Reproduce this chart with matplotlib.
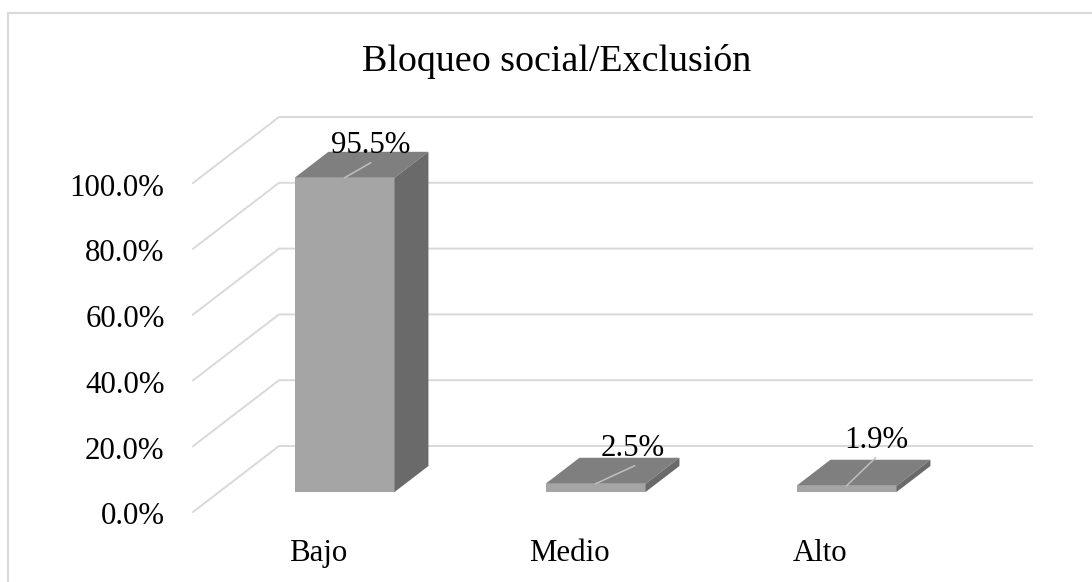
import numpy as np
import matplotlib
matplotlib.use('Agg')
import matplotlib.pyplot as plt
from matplotlib.lines import Line2D
from matplotlib.transforms import ScaledTranslation

plt.rcParams['font.family'] = ['Liberation Serif', 'DejaVu Serif']

# Data
categories = ['Bajo', 'Medio', 'Alto']
values = [95.5, 2.5, 1.9]
value_labels = ['95.5%', '2.5%', '1.9%']
y_ticks = [0, 20, 40, 60, 80, 100]
y_labels = ['0.0%', '20.0%', '40.0%', '60.0%', '80.0%', '100.0%']
title = 'Bloqueo social/Exclusión'

W, H = 1092, 582
GRID = '#d9d9d9'
FONT = 22.2

fig = plt.figure(figsize=(W / 100, H / 100), dpi=100)
fig.patch.set_facecolor('white')

# axes covers the front edge of the floor, in pixels
left, right, bottom, top = 193, 946, 512, 183
ax = fig.add_axes([left / W, 1 - bottom / H, (right - left) / W, (bottom - top) / H])
ax.set_xlim(-0.5, 2.5)
ax.set_ylim(0, 100)
ax.patch.set_visible(False)
for s in ax.spines.values():
    s.set_visible(False)

px_x = 3 / (right - left)     # one pixel in x data units
px_y = 100 / (bottom - top)   # one pixel in y data units

# fake 3D depth of the chart
depth_x = 86 * px_x
depth_y = 66 * px_y

# walls
for v in y_ticks:
    ax.plot([-0.5, -0.5 + depth_x, 2.5 + depth_x], [v, v + depth_y, v + depth_y],
            color=GRID, lw=1.4, clip_on=False, zorder=1)

# bars
x = np.arange(len(categories))
bar_w = 100 * px_x
off_x = 0.303 * depth_x
off_y = 0.303 * depth_y
bar_dx = 0.394 * depth_x
bar_dy = 0.394 * depth_y

for xi, v in zip(x, values):
    x0 = xi + off_x - bar_w / 2
    x1 = xi + off_x + bar_w / 2
    y0 = off_y
    y1 = off_y + v
    ax.bar(xi + off_x, v, bar_w, bottom=off_y, color='#a5a5a5', clip_on=False, zorder=3)
    ax.fill([x0, x1, x1 + bar_dx, x0 + bar_dx], [y1, y1, y1 + bar_dy, y1 + bar_dy],
            color='#7f7f7f', lw=0, clip_on=False, zorder=3)
    ax.fill([x1, x1 + bar_dx, x1 + bar_dx, x1], [y0, y0 + bar_dy, y1 + bar_dy, y1],
            color='#6a6a6a', lw=0, clip_on=False, zorder=3)

# data labels and leader lines, hand placed as in the original
leader_dx = [26, 39, 29]
leader_dy = [15, 18, 28]
label_dx = [26, 37, 30]
label_dy = [25, 28, 38]
for i, v in enumerate(values):
    cx = x[i] + off_x
    cy = off_y + v
    ax.plot([cx, cx + leader_dx[i] * px_x], [cy, cy + leader_dy[i] * px_y],
            color='#bfbfbf', lw=1.1, clip_on=False, zorder=4)
    ax.text(cx + label_dx[i] * px_x, cy + label_dy[i] * px_y, value_labels[i],
            ha='center', va='baseline', fontsize=FONT, color='black', zorder=5)

# axis labels
ax.set_yticks(y_ticks)
ax.set_yticklabels(y_labels, fontsize=FONT, color='black')
ax.set_xticks(x)
ax.set_xticklabels(categories, fontsize=FONT, color='black')
ax.tick_params(axis='y', length=0, pad=20.5)
ax.tick_params(axis='x', length=0, pad=19.5)

# y labels sit a little lower than the gridline ends
shift = ScaledTranslation(0, -1.5 / 100, fig.dpi_scale_trans)
for lbl in ax.get_yticklabels():
    lbl.set_transform(lbl.get_transform() + shift)

fig.text(557 / W, 1 - 71 / H, title, ha='center', va='baseline', fontsize=27.4, color='black')

# chart frame, only top and left show up
fig.add_artist(Line2D([8 / W, 8 / W, 1], [0, 1 - 13 / H, 1 - 13 / H],
                      transform=fig.transFigure, color=GRID, lw=1.5))

fig.savefig('out.png', dpi=100)
